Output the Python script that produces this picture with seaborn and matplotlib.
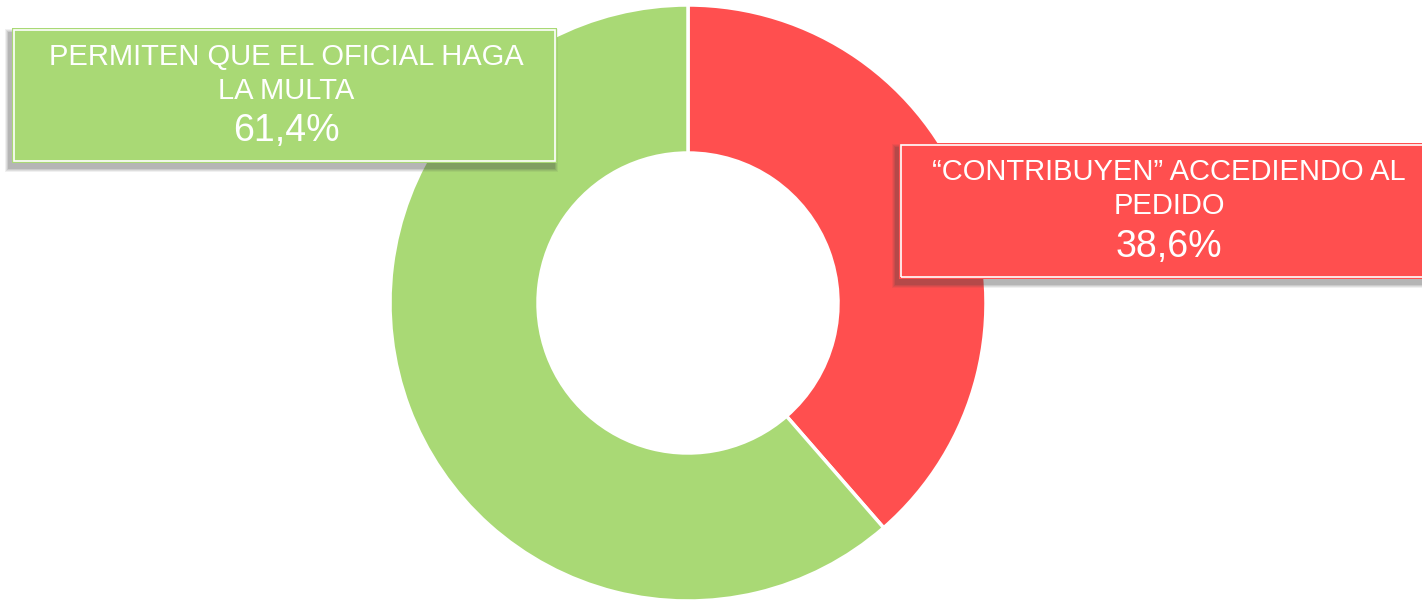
import matplotlib.pyplot as plt
import seaborn as sns
from matplotlib.patches import Rectangle

# data
categories = ['“CONTRIBUYEN” ACCEDIENDO AL\nPEDIDO', 'PERMITEN QUE EL OFICIAL HAGA\nLA MULTA']
values = [38.6, 61.4]
pct_labels = ['38,6%', '61,4%']
colors = ['#FF4F4F', '#A9D975']

sns.set_theme(style='white')
plt.rcParams['font.family'] = ['Liberation Sans', 'DejaVu Sans']

W, H = 1422, 600
fig = plt.figure(figsize=(W / 100, H / 100), dpi=100)
ax = fig.add_axes([0, 0, 1, 1])

# donut, drawn in pixel-like data coords (y up)
ax.pie(values, colors=colors, startangle=90, counterclock=False,
       center=(688, H - 303), radius=298,
       wedgeprops=dict(width=148, edgecolor='white', linewidth=2.5))
ax.set_xlim(0, W)
ax.set_ylim(0, H)
ax.set_aspect('equal')
ax.axis('off')


def label_box(x0, y0, x1, y1, color, text, pct, cx, ty, py):
    # soft shadow down-left
    for i, a in enumerate([0.08, 0.10, 0.12, 0.16]):
        d = 8 - i * 2
        ax.add_patch(Rectangle((x0 - 3 - d / 2, H - y1 - 5 - d / 2), x1 - x0 + d, y1 - y0 + d,
                               facecolor='#444444', edgecolor='none', alpha=a, zorder=3))
    ax.add_patch(Rectangle((x0, H - y1), x1 - x0, y1 - y0, facecolor=color,
                           edgecolor='none', zorder=4))
    ax.add_patch(Rectangle((x0 + 2, H - y1 + 2), x1 - x0 - 4, y1 - y0 - 4, facecolor='none',
                           edgecolor='white', linewidth=1.2, zorder=5))
    ax.text(cx, H - ty, text, ha='center', va='center', color='white',
            fontsize=21, linespacing=1.28, zorder=6)
    ax.text(cx, H - py, pct, ha='center', va='center', color='white',
            fontsize=27, zorder=6)


label_box(12, 28, 557, 163, colors[1], categories[1], pct_labels[1], 286, 74, 131)
label_box(899, 143, 1445, 279, colors[0], categories[0], pct_labels[0], 1169, 189, 247)

fig.savefig('out.png', dpi=100, facecolor='white')
